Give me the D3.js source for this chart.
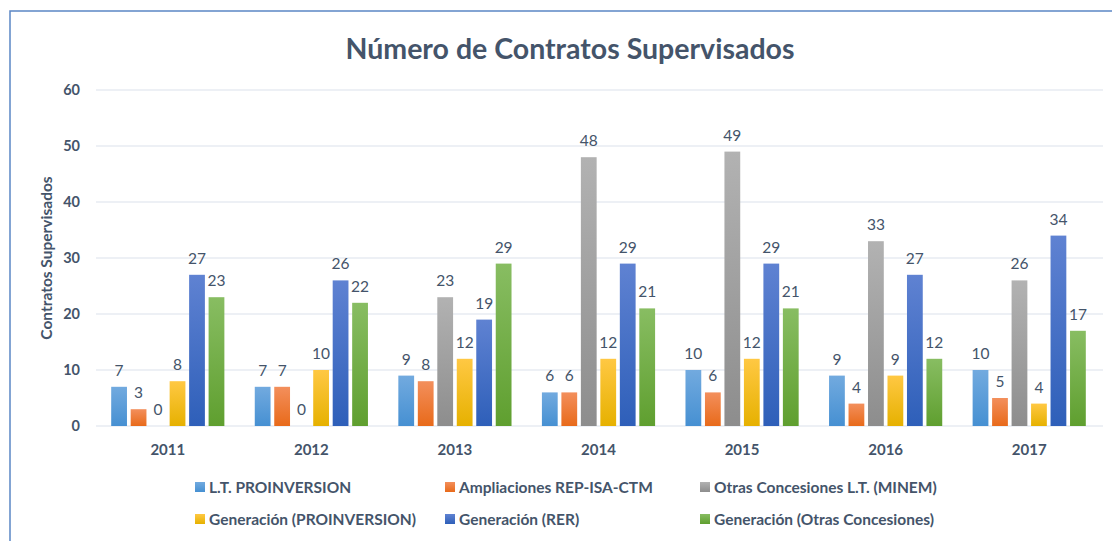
<!DOCTYPE html>
<html>
<head>
<meta charset="utf-8">
<script src="https://cdn.jsdelivr.net/npm/d3@7"></script>
<style>
  body { margin: 0; background: #fff; }
  text { font-family: Lato, "Open Sans", sans-serif; }
</style>
</head>
<body>
<div id="chart"></div>
<script>
// data
var years = ["2011", "2012", "2013", "2014", "2015", "2016", "2017"];
var seriesNames = [
  "L.T. PROINVERSION",
  "Ampliaciones REP-ISA-CTM",
  "Otras Concesiones L.T. (MINEM)",
  "Generación (PROINVERSION)",
  "Generación (RER)",
  "Generación (Otras Concesiones)"
];
var ltProinversion = [7, 7, 9, 6, 10, 9, 10];
var ampliaciones = [3, 7, 8, 6, 6, 4, 5];
var otrasLT = [0, 0, 23, 48, 49, 33, 26];
var genProinversion = [8, 10, 12, 12, 12, 9, 4];
var genRER = [27, 26, 19, 29, 29, 27, 34];
var genOtras = [23, 22, 29, 21, 21, 12, 17];
var yTicks = [0, 10, 20, 30, 40, 50, 60];

var allSeries = [ltProinversion, ampliaciones, otrasLT, genProinversion, genRER, genOtras];
// gradient top / bottom colours per series
var colorTop = ["#72aadf", "#f38f5c", "#b2b2b2", "#ffc843", "#5f82d2", "#88bd62"];
var colorBot = ["#4690d2", "#e86a1a", "#8d8d8d", "#e6b100", "#2e5fb9", "#5f9f2f"];

var W = 1112, H = 541;
var svg = d3.select("#chart").append("svg")
  .attr("width", W).attr("height", H);

var defs = svg.append("defs");
colorTop.forEach(function(c, i) {
  var g = defs.append("linearGradient")
    .attr("id", "grad" + i)
    .attr("x1", 0).attr("y1", 0).attr("x2", 0).attr("y2", 1);
  g.append("stop").attr("offset", "0%").attr("stop-color", c);
  g.append("stop").attr("offset", "100%").attr("stop-color", colorBot[i]);
});

// chart border (cut off at right and bottom)
svg.append("rect")
  .attr("x", 10).attr("y", 11)
  .attr("width", W + 20).attr("height", H + 20)
  .attr("fill", "none")
  .attr("stroke", "#5b86c5")
  .attr("stroke-width", 1.5);

var textColor = "#44546a";

svg.append("text")
  .attr("x", 570).attr("y", 59)
  .attr("text-anchor", "middle")
  .attr("font-size", 28.5).attr("font-weight", "bold")
  .attr("fill", textColor)
  .text("Número de Contratos Supervisados");

var x = d3.scaleBand().domain(years).range([96, 1101]).paddingInner(0).paddingOuter(0);
var y = d3.scaleLinear().domain([0, 60]).range([426, 90]);

var x1 = d3.scaleBand().domain(d3.range(allSeries.length))
  .range([0, x.bandwidth()]).paddingInner(0.19).paddingOuter(0.78);

// grid
svg.append("g").selectAll("line")
  .data(yTicks)
  .join("line")
  .attr("x1", 96).attr("x2", 1103)
  .attr("y1", function(d) { return y(d); })
  .attr("y2", function(d) { return y(d); })
  .attr("stroke", "#dbe2ec")
  .attr("stroke-width", 1.2);

// y axis
var yAxis = svg.append("g")
  .attr("transform", "translate(88,0)")
  .call(d3.axisLeft(y).tickValues(yTicks).tickSize(0).tickPadding(8));
yAxis.select(".domain").remove();
yAxis.selectAll("text")
  .attr("font-size", 14.5).attr("font-weight", "bold")
  .attr("fill", textColor)
  .style("font-family", "Lato, sans-serif");

// x axis
var xAxis = svg.append("g")
  .attr("transform", "translate(0,426)")
  .call(d3.axisBottom(x).tickSize(0).tickPadding(18));
xAxis.select(".domain").remove();
xAxis.selectAll("text")
  .attr("font-size", 15).attr("font-weight", "bold")
  .attr("fill", textColor)
  .style("font-family", "Lato, sans-serif");

svg.append("text")
  .attr("transform", "translate(52,258) rotate(-90)")
  .attr("text-anchor", "middle")
  .attr("font-size", 15.5).attr("font-weight", "bold")
  .attr("fill", textColor)
  .text("Contratos Supervisados");

// bars
var groups = svg.append("g").selectAll("g")
  .data(years)
  .join("g")
  .attr("transform", function(d) { return "translate(" + x(d) + ",0)"; });

groups.each(function(year, yi) {
  var g = d3.select(this);
  var vals = allSeries.map(function(s, si) { return { si: si, v: s[yi] }; });
  g.selectAll("rect")
    .data(vals)
    .join("rect")
    .attr("x", function(d) { return x1(d.si); })
    .attr("width", x1.bandwidth())
    .attr("y", function(d) { return y(d.v); })
    .attr("height", function(d) { return y(0) - y(d.v); })
    .attr("fill", function(d) { return "url(#grad" + d.si + ")"; });
  g.selectAll("text")
    .data(vals)
    .join("text")
    .attr("x", function(d) { return x1(d.si) + x1.bandwidth() / 2; })
    .attr("y", function(d) { return y(d.v) - 11; })
    .attr("text-anchor", "middle")
    .attr("font-size", 15.5)
    .attr("fill", textColor)
    .text(function(d) { return d.v; });
});

// legend
var legendPos = [[195, 488], [445, 488], [700, 488], [195, 520], [445, 520], [700, 520]];
var legend = svg.append("g").selectAll("g")
  .data(seriesNames)
  .join("g")
  .attr("transform", function(d, i) { return "translate(" + legendPos[i][0] + "," + legendPos[i][1] + ")"; });
legend.append("rect")
  .attr("x", 0).attr("y", -6)
  .attr("width", 10).attr("height", 10)
  .attr("fill", function(d, i) { return "url(#grad" + i + ")"; });
legend.append("text")
  .attr("x", 14).attr("y", 5)
  .attr("font-size", 15.5).attr("font-weight", "bold")
  .attr("fill", textColor)
  .text(function(d) { return d; });
</script>
</body>
</html>
